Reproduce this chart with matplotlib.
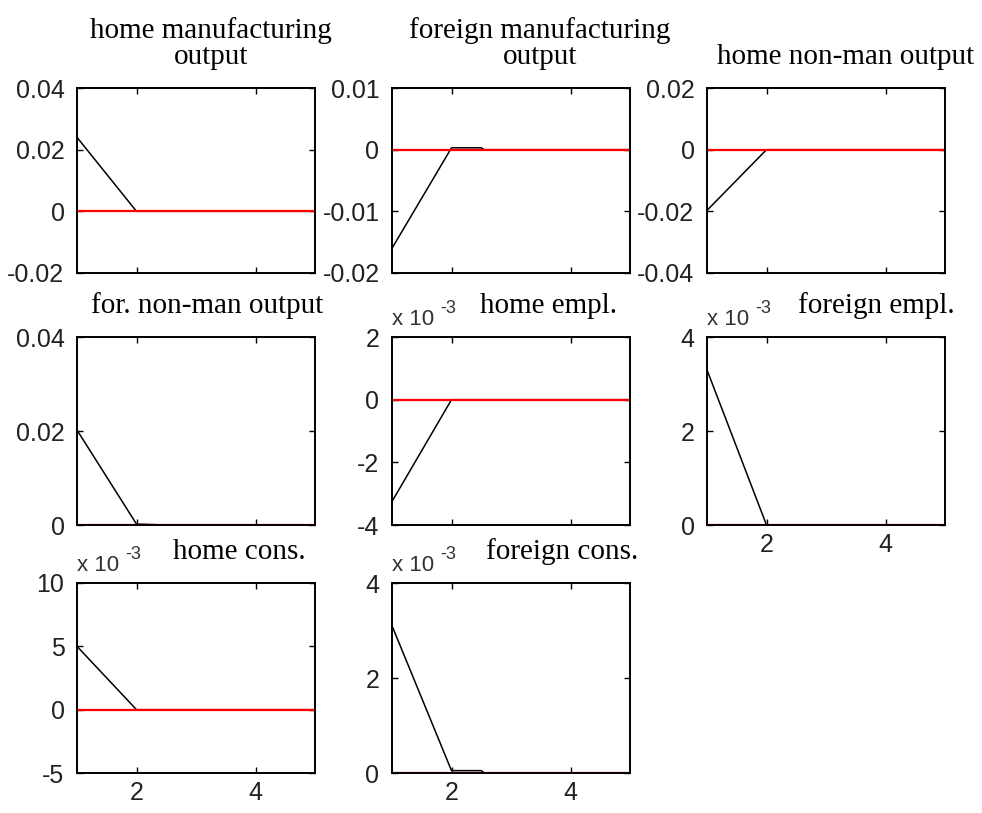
import matplotlib
matplotlib.use("Agg")
import matplotlib.pyplot as plt
from matplotlib.ticker import FuncFormatter

# ---------------- data ----------------
periods = [1, 2, 2.5, 2.55, 4, 5]
titles = ["home manufacturing\noutput", "foreign manufacturing\noutput", "home non-man output",
          "for. non-man output", "home empl.", "foreign empl.",
          "home cons.", "foreign cons."]
home_man_out = [0.024, 0.0, 0.0, 0.0, 0.0, 0.0]
foreign_man_out = [-0.016, 0.0003, 0.0003, 0.0, 0.0, 0.0]
home_nonman_out = [-0.0197, 0.0, 0.0, 0.0, 0.0, 0.0]
for_nonman_out = [0.0202, 0.0002, 0.0, 0.0, 0.0, 0.0]
home_empl = [-0.00325, 0.0, 0.0, 0.0, 0.0, 0.0]
foreign_empl = [0.0033, 0.0, 0.0, 0.0, 0.0, 0.0]
home_cons = [0.0050, 0.0, 0.0, 0.0, 0.0, 0.0]
foreign_cons = [0.0031, 0.00005, 0.00005, 0.0, 0.0, 0.0]
baseline = [0.0, 0.0, 0.0, 0.0, 0.0, 0.0]
series = [home_man_out, foreign_man_out, home_nonman_out, for_nonman_out,
          home_empl, foreign_empl, home_cons, foreign_cons]
ylims = [(-0.02, 0.04), (-0.02, 0.01), (-0.04, 0.02), (0.0, 0.04),
         (-0.004, 0.002), (0.0, 0.004), (-0.005, 0.010), (0.0, 0.004)]
yticks = [[-0.02, 0, 0.02, 0.04], [-0.02, -0.01, 0, 0.01], [-0.04, -0.02, 0, 0.02],
          [0, 0.02, 0.04], [-0.004, -0.002, 0, 0.002], [0, 0.002, 0.004],
          [-0.005, 0, 0.005, 0.010], [0, 0.002, 0.004]]
exponents = [0, 0, 0, 0, -3, -3, -3, -3]
xticks = [2, 4]

# ---------------- layout ----------------
W, H = 982, 813
fig = plt.figure(figsize=(W / 100, H / 100), dpi=100)
lefts = [77, 392, 707]
rows = [(88, 273), (337, 525), (583, 773)]
aw = 238
title_dx = [15, 29, 20, 11, 37, 50, 43, 51]
show_xlabels = [False, False, False, False, False, True, True, True]

for i in range(8):
    r, c = divmod(i, 3)
    top, bot = rows[r]
    ax = fig.add_axes([lefts[c] / W, 1 - bot / H, aw / W, (bot - top) / H])
    ax.plot(periods, series[i], color="black", lw=1.1)
    ax.plot(periods, baseline, color="#ff0000", lw=1.6)
    ax.set_xlim(1, 5)
    ax.set_ylim(*ylims[i])
    ax.set_xticks(xticks)
    ax.set_yticks(yticks[i])
    scale = 10.0 ** exponents[i]
    ax.yaxis.set_major_formatter(FuncFormatter(lambda v, p, s=scale: f"{v / s:g}" if abs(v) > 1e-12 else "0"))
    ax.tick_params(direction="in", length=4, width=1.0, top=True, right=True,
                   labelsize=18, colors="black", pad=9)
    for lab in ax.get_yticklabels() + ax.get_xticklabels():
        lab.set_family("Liberation Sans")
        lab.set_color("#222222")
    if not show_xlabels[i]:
        ax.tick_params(labelbottom=False)
    else:
        ax.tick_params(axis="x", pad=6)
    for sp in ax.spines.values():
        sp.set_linewidth(1.4)
        sp.set_color("black")
    ax.set_title(titles[i], family="Liberation Serif", size=21, pad=17,
                 x=0.5 + title_dx[i] / aw, linespacing=1.0)
    if exponents[i] != 0:
        ax.annotate("x 10", xy=(0, 1), xycoords="axes fraction", xytext=(0, 9),
                    textcoords="offset points", ha="left", va="baseline",
                    family="Liberation Sans", size=16, color="#333333")
        ax.annotate(f"{exponents[i]}", xy=(0, 1), xycoords="axes fraction", xytext=(35, 17),
                    textcoords="offset points", ha="left", va="baseline",
                    family="Liberation Sans", size=13, color="#333333")

fig.savefig("out.png", dpi=100, facecolor="white")
